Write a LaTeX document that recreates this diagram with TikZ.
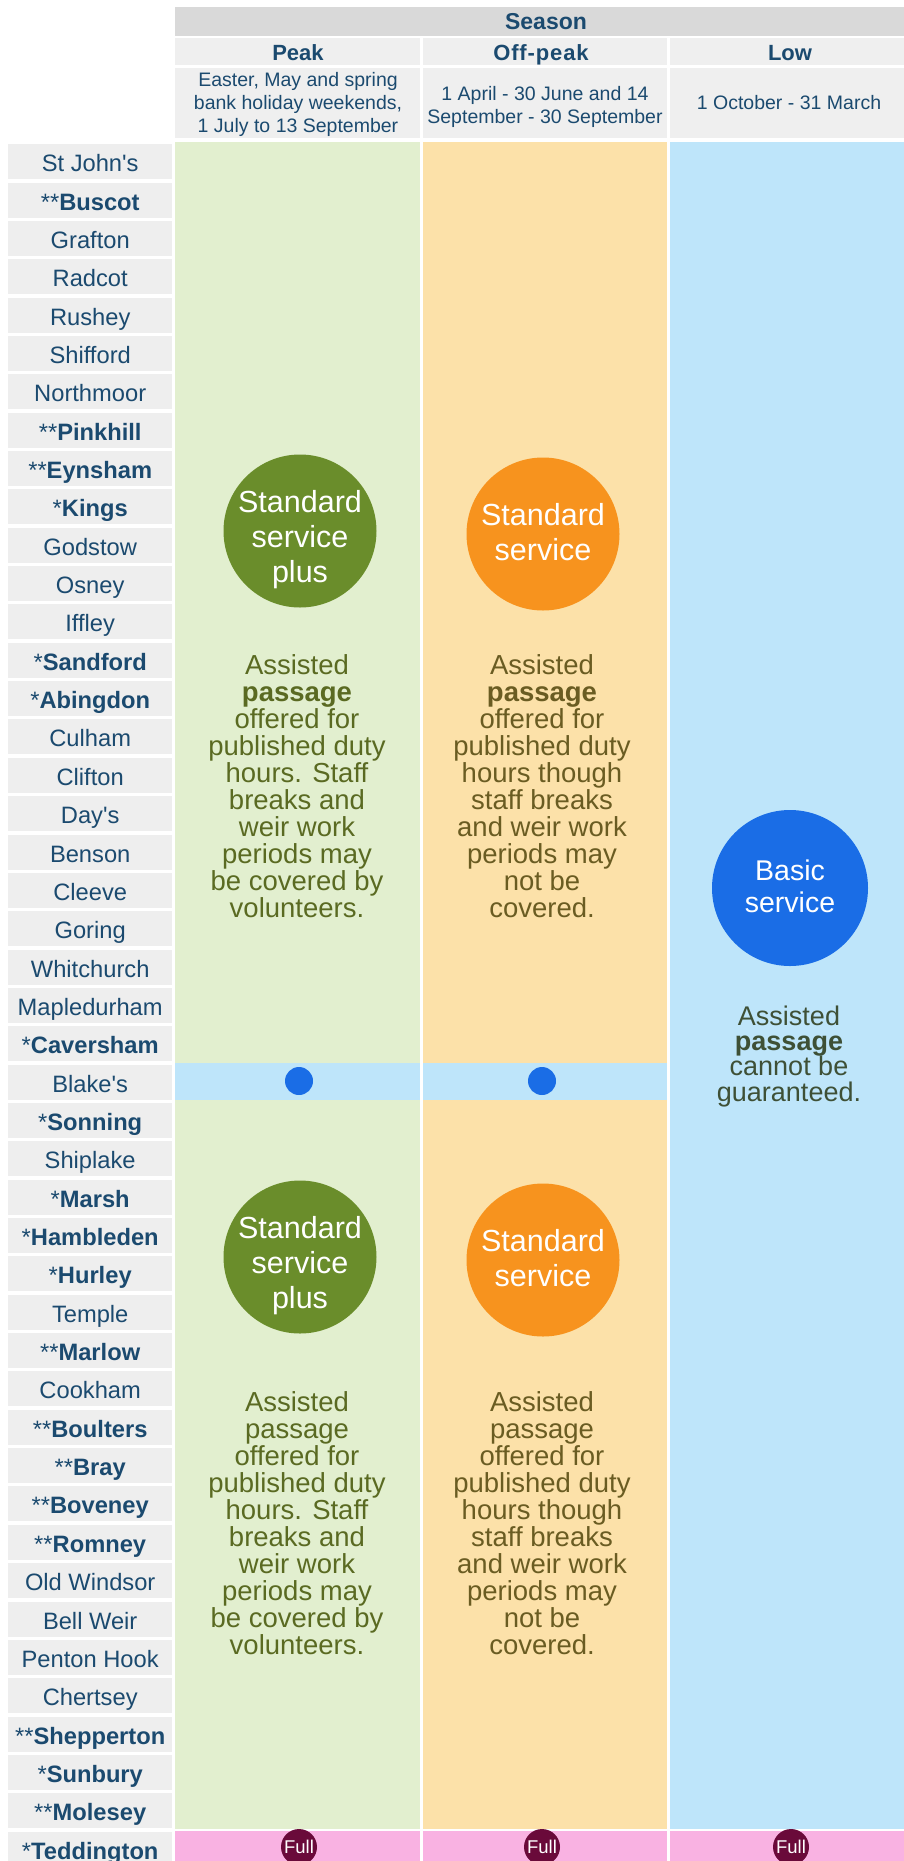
\documentclass[tikz,border=0pt]{standalone}
\usepackage{fontspec}
\setmainfont{Liberation Sans}
\definecolor{lockbg}{HTML}{EEEEEE}
\definecolor{seasonbg}{HTML}{D9D9D9}
\definecolor{hdrbg}{HTML}{EFEFEF}
\definecolor{txtblue}{HTML}{1B4A6F}
\definecolor{peakbg}{HTML}{E2EFCF}
\definecolor{offbg}{HTML}{FCE1A9}
\definecolor{lowbg}{HTML}{BEE5FA}
\definecolor{fullbg}{HTML}{F9B2E2}
\definecolor{fullc}{HTML}{6A0A3A}
\definecolor{greenc}{HTML}{6A8D2B}
\definecolor{orangec}{HTML}{F7931E}
\definecolor{bluec}{HTML}{1A6DE6}
\definecolor{greentxt}{HTML}{5A6A22}
\definecolor{orangetxt}{HTML}{6A5C22}
\definecolor{basictxt}{HTML}{3E5036}
\newcommand\lkb[2]{#1\textbf{#2}}
\begin{document}
\begin{tikzpicture}[x=1pt,y=-1pt,
  lockcell/.style={fill=lockbg, minimum width=164pt, minimum height=35pt, inner sep=0pt,
    text height=22pt, text depth=2pt, text=txtblue, font=\fontsize{23.7}{27}\selectfont, anchor=north west},
  bodytxt/.style={align=center, inner sep=0pt, anchor=base, font=\fontsize{27.5}{27}\selectfont},
  circtxt/.style={align=center, inner sep=0pt, anchor=base, text=white, font=\fontsize{30.5}{35}\selectfont},
  hdr/.style={inner sep=0pt, anchor=base, text=txtblue, font=\bfseries\fontsize{22}{26}\selectfont},
  datetxt/.style={align=center, inner sep=0pt, anchor=base, text=txtblue, font=\fontsize{19.5}{23}\selectfont},
  bigcirc/.style={circle, minimum size=153pt, inner sep=0pt},
  dotc/.style={circle, fill=bluec, minimum size=28pt, inner sep=0pt},
  fullcirc/.style={circle, fill=fullc, minimum size=36pt, inner sep=0pt, text=white, font=\fontsize{18.5}{20}\selectfont},
]
\clip (0,0) rectangle (904,1861);
\fill[white] (0,0) rectangle (904,1861);
% header backgrounds
\fill[seasonbg] (175,7) rectangle (904,36);
\fill[hdrbg] (175,38) rectangle (420,65);
\fill[hdrbg] (423,38) rectangle (667,65);
\fill[hdrbg] (670,38) rectangle (904,65);
\fill[hdrbg] (175,68) rectangle (420,138);
\fill[hdrbg] (423,68) rectangle (667,138);
\fill[hdrbg] (670,68) rectangle (904,138);
% columns
\fill[peakbg] (175,142) rectangle (420,1829);
\fill[offbg] (423,142) rectangle (667,1829);
\fill[lowbg] (670,142) rectangle (904,1829);
\fill[lowbg] (175,1063) rectangle (420,1100);
\fill[lowbg] (423,1063) rectangle (667,1100);
\fill[fullbg] (175,1831) rectangle (420,1861);
\fill[fullbg] (423,1831) rectangle (667,1861);
\fill[fullbg] (670,1831) rectangle (904,1861);
% header texts (anchor base = last line baseline)
\node[hdr, font=\bfseries\fontsize{23}{26}\selectfont] (season) at (546,29) {Season};
\node[hdr] (peak) at (298,60) {Peak};
\node[hdr, font=\bfseries\fontsize{22}{26}\selectfont\addfontfeatures{LetterSpace=4}] (offpeak) at (541,60) {Off-peak};
\node[hdr] (low) at (790,60) {Low};
\node[datetxt] (dpeak) at (298,132) {Easter, May and spring\\bank holiday weekends,\\1 July to 13 September};
\node[datetxt] (doff) at (545,123) {1 April - 30 June and 14\\September - 30 September};
\node[datetxt] (dlow) at (789,109) {1 October - 31 March};
% lock names
\foreach \n [count=\i from 0] in {St John\textquotesingle s,\lkb{**}{Buscot},Grafton,Radcot,Rushey,Shifford,Northmoor,
  \lkb{**}{Pinkhill},\lkb{**}{Eynsham},\lkb{*}{Kings},Godstow,Osney,Iffley,\lkb{*}{Sandford},\lkb{*}{Abingdon},
  Culham,Clifton,Day\textquotesingle s,Benson,Cleeve,Goring,Whitchurch,Mapledurham,\lkb{*}{Caversham},
  Blake\textquotesingle s,\lkb{*}{Sonning},Shiplake,\lkb{*}{Marsh},\lkb{*}{Hambleden},\lkb{*}{Hurley},Temple,
  \lkb{**}{Marlow},Cookham,\lkb{**}{Boulters},\lkb{**}{Bray},\lkb{**}{Boveney},\lkb{**}{Romney},
  Old Windsor,Bell Weir,Penton Hook,Chertsey,\lkb{**}{Shepperton},\lkb{*}{Sunbury},\lkb{**}{Molesey},
  \lkb{*}{Teddington}}{
  \pgfmathsetmacro\t{144+38.35*\i}
  \node[lockcell] (lock\i) at (8,\t) {\n};
}
% upper section
\node[bigcirc, fill=greenc] (gcU) at (300,531) {};
\node[circtxt] (gcUt) at (300,582) {Standard\\service\\plus};
\node[bigcirc, fill=orangec] (ocU) at (543,534) {};
\node[circtxt] (ocUt) at (543,560) {Standard\\service};
\node[bodytxt, text=greentxt] (gtU) at (297,917) {Assisted\\\textbf{passage}\\offered for\\published duty\\hours. Staff\\breaks and\\weir work\\periods may\\be covered by\\volunteers.};
\node[bodytxt, text=orangetxt] (otU) at (542,917) {Assisted\\\textbf{passage}\\offered for\\published duty\\hours though\\staff breaks\\and weir work\\periods may\\not be\\covered.};
% Blake's dots
\node[dotc] (dotg) at (299,1081) {};
\node[dotc] (doto) at (542,1081) {};
% lower section
\node[bigcirc, fill=greenc] (gcL) at (300,1257) {};
\node[circtxt] (gcLt) at (300,1308) {Standard\\service\\plus};
\node[bigcirc, fill=orangec] (ocL) at (543,1260) {};
\node[circtxt] (ocLt) at (543,1286) {Standard\\service};
\node[bodytxt, text=greentxt] (gtL) at (297,1654) {Assisted\\passage\\offered for\\published duty\\hours. Staff\\breaks and\\weir work\\periods may\\be covered by\\volunteers.};
\node[bodytxt, text=orangetxt] (otL) at (542,1654) {Assisted\\passage\\offered for\\published duty\\hours though\\staff breaks\\and weir work\\periods may\\not be\\covered.};
% low season
\node[bigcirc, fill=bluec, minimum size=156pt] (bc) at (790,888) {};
\node[circtxt, font=\fontsize{28.5}{32}\selectfont] (bct) at (790,912) {Basic\\service};
\node[bodytxt, text=basictxt, font=\fontsize{27}{25.3}\selectfont] (bt) at (789,1101) {Assisted\\\textbf{passage}\\cannot be\\guaranteed.};
% Full
\node[fullcirc] (fullp) at (299,1847) {Full};
\node[fullcirc] (fullo) at (542,1847) {Full};
\node[fullcirc] (fulll) at (791,1847) {Full};
\end{tikzpicture}
\end{document}
